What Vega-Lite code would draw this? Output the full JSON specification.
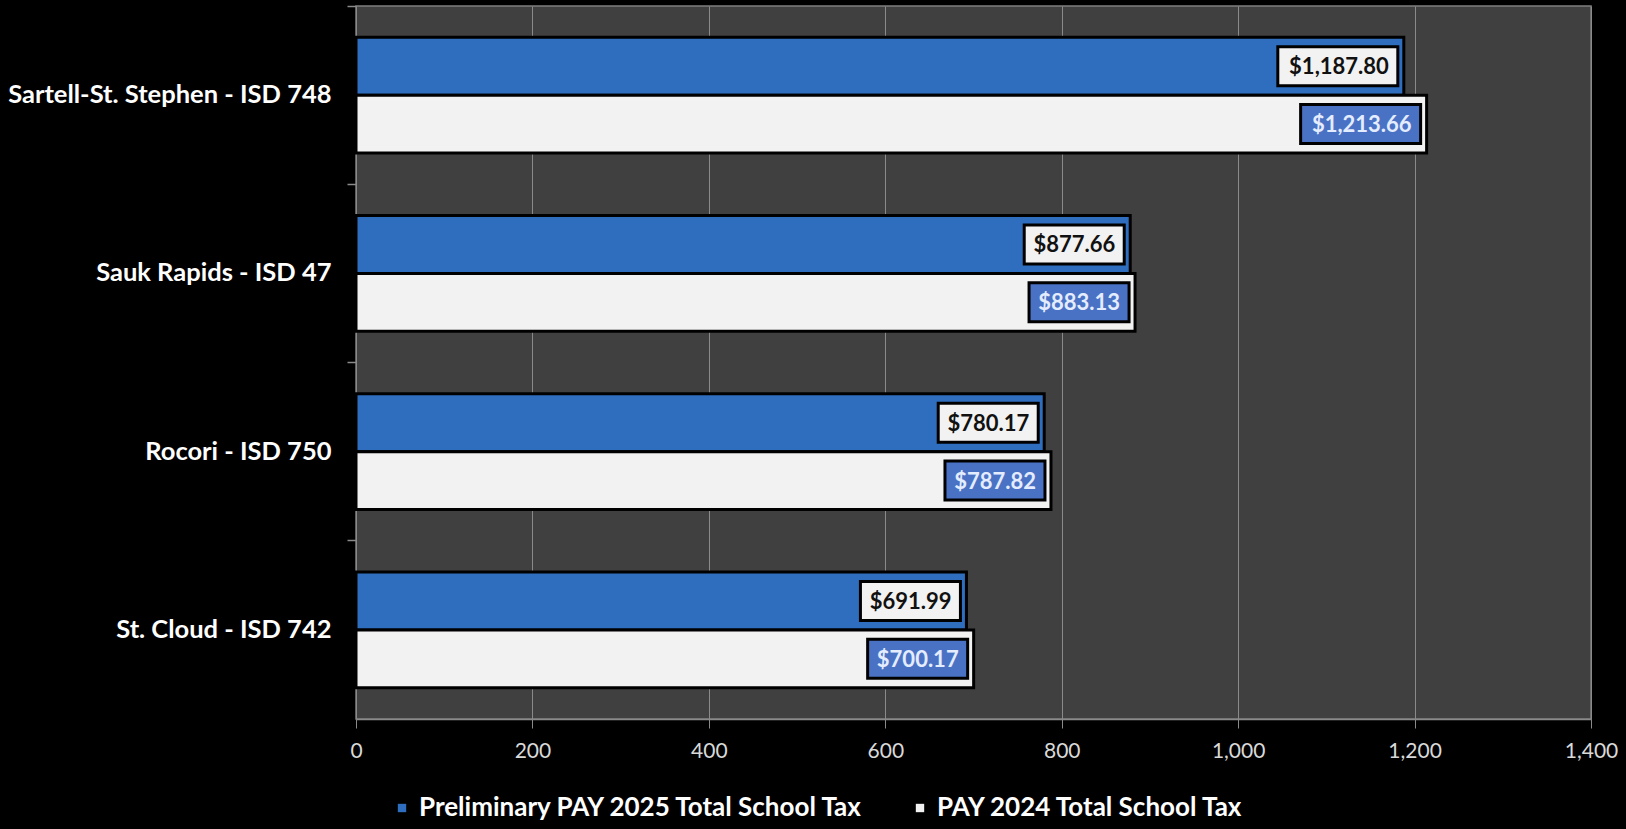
{
  "$schema": "https://vega.github.io/schema/vega-lite/v6.json",
  "width": 1235,
  "height": 713,
  "autosize": {"type": "none"},
  "padding": {"left": 356, "top": 6, "right": 35, "bottom": 110},
  "background": "#000000",
  "config": {
    "view": {"fill": "#404040", "stroke": "#7f7f7f", "strokeWidth": 1.5},
    "font": "Lato"
  },
  "data": {
    "values": [
      {"district": "Sartell-St. Stephen - ISD 748", "series": "Preliminary PAY 2025 Total School Tax", "value": 1187.80},
      {"district": "Sartell-St. Stephen - ISD 748", "series": "PAY 2024 Total School Tax", "value": 1213.66},
      {"district": "Sauk Rapids - ISD 47", "series": "Preliminary PAY 2025 Total School Tax", "value": 877.66},
      {"district": "Sauk Rapids - ISD 47", "series": "PAY 2024 Total School Tax", "value": 883.13},
      {"district": "Rocori - ISD 750", "series": "Preliminary PAY 2025 Total School Tax", "value": 780.17},
      {"district": "Rocori - ISD 750", "series": "PAY 2024 Total School Tax", "value": 787.82},
      {"district": "St. Cloud - ISD 742", "series": "Preliminary PAY 2025 Total School Tax", "value": 691.99},
      {"district": "St. Cloud - ISD 742", "series": "PAY 2024 Total School Tax", "value": 700.17}
    ]
  },
  "resolve": {"axis": {"y": "independent", "x": "independent"}},
  "layer": [
    {
      "mark": {"type": "bar", "stroke": "#000000", "strokeWidth": 3},
      "encoding": {
        "y": {
          "field": "district", "type": "nominal",
          "sort": ["Sartell-St. Stephen - ISD 748", "Sauk Rapids - ISD 47", "Rocori - ISD 750", "St. Cloud - ISD 742"],
          "scale": {"paddingInner": 0.35, "paddingOuter": 0.175},
          "axis": {
            "title": null, "orient": "left", "ticks": false, "domain": false, "labelPadding": 25, "labelLimit": 500,
            "labelColor": "#ffffff", "labelFont": "Lato", "labelFontWeight": "bold", "labelFontSize": 25.5
          }
        },
        "yOffset": {
          "field": "series", "type": "nominal",
          "sort": ["Preliminary PAY 2025 Total School Tax", "PAY 2024 Total School Tax"],
          "scale": {"paddingInner": 0, "paddingOuter": 0}
        },
        "x": {
          "field": "value", "type": "quantitative",
          "scale": {"domain": [0, 1400], "nice": false},
          "axis": {
            "title": null, "values": [0, 200, 400, 600, 800, 1000, 1200, 1400],
            "grid": true, "gridColor": "#8a8a8a", "gridWidth": 1,
            "domainColor": "#8a8a8a", "domainWidth": 1.5,
            "tickColor": "#8a8a8a", "tickSize": 9, "labelPadding": 12,
            "labelColor": "#d9d9d9", "labelFontSize": 21, "labelFont": "Lato", "labelFlush": false
          }
        },
        "color": {
          "field": "series", "type": "nominal",
          "scale": {
            "domain": ["Preliminary PAY 2025 Total School Tax", "PAY 2024 Total School Tax"],
            "range": ["#2F6EBE", "#F2F2F2"]
          },
          "legend": {
            "title": null, "orient": "none", "direction": "horizontal",
            "legendX": 33, "legendY": 789,
            "symbolType": "square", "symbolSize": 70, "symbolStrokeWidth": 0,
            "labelColor": "#ffffff", "labelFont": "Lato", "labelFontWeight": "bold", "labelFontSize": 26,
            "labelOffset": 4, "columnPadding": 42, "labelLimit": 700
          }
        }
      }
    },
    {
      "mark": {"type": "point", "filled": true, "size": 400, "stroke": "#000000", "strokeWidth": 3, "opacity": 1},
      "encoding": {
        "y": {
          "field": "district", "type": "nominal",
          "sort": ["Sartell-St. Stephen - ISD 748", "Sauk Rapids - ISD 47", "Rocori - ISD 750", "St. Cloud - ISD 742"],
          "axis": {
            "title": null, "orient": "left", "labels": false, "domain": false, "ticks": true,
            "bandPosition": -0.269, "tickSize": 9, "tickColor": "#8a8a8a", "tickWidth": 1.5
          }
        },
        "yOffset": {
          "field": "series", "type": "nominal",
          "sort": ["Preliminary PAY 2025 Total School Tax", "PAY 2024 Total School Tax"]
        },
        "x": {"field": "value", "type": "quantitative", "axis": null},
        "shape": {
          "condition": {"test": "datum.value >= 1000", "value": "M-12.6,-1.95H-0.6V1.95H-12.6Z"},
          "value": "M-10.6,-1.95H-0.6V1.95H-10.6Z"
        },
        "fill": {
          "condition": {"test": "datum.series === 'PAY 2024 Total School Tax'", "value": "#4A72C4"},
          "value": "#F2F2F2"
        }
      }
    },
    {
      "mark": {"type": "text", "align": "right", "baseline": "middle", "dx": -15, "dy": 1, "font": "Lato", "fontWeight": "bold", "fontSize": 22},
      "encoding": {
        "y": {
          "field": "district", "type": "nominal",
          "sort": ["Sartell-St. Stephen - ISD 748", "Sauk Rapids - ISD 47", "Rocori - ISD 750", "St. Cloud - ISD 742"],
          "axis": null
        },
        "yOffset": {
          "field": "series", "type": "nominal",
          "sort": ["Preliminary PAY 2025 Total School Tax", "PAY 2024 Total School Tax"]
        },
        "x": {"field": "value", "type": "quantitative", "axis": null},
        "text": {"field": "value", "type": "quantitative", "format": "$,.2f"},
        "color": {
          "condition": {"test": "datum.series === 'PAY 2024 Total School Tax'", "value": "#E4ECFF"},
          "value": "#111111"
        }
      }
    }
  ]
}
